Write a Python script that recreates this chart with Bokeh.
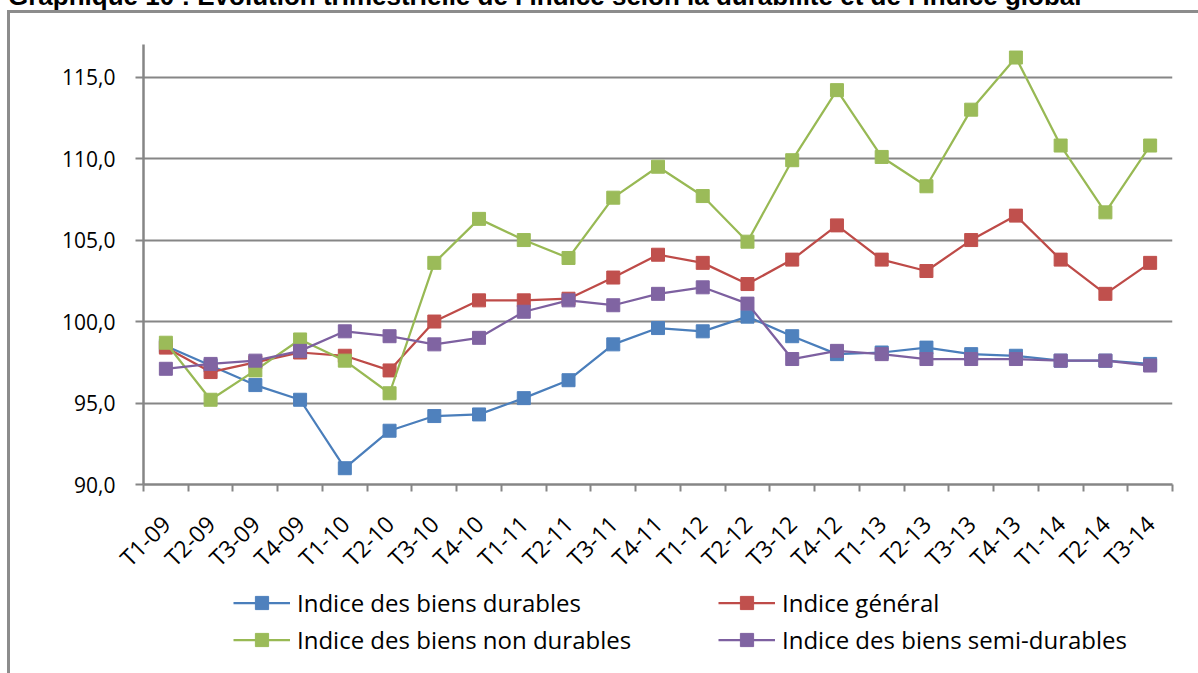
import math
from bokeh.plotting import figure
from bokeh.layouts import column
from bokeh.models import Range1d, FixedTicker, Legend, LegendItem, Div
from bokeh.embed import file_html
from bokeh.resources import INLINE

quarters = ["T1-09", "T2-09", "T3-09", "T4-09", "T1-10", "T2-10", "T3-10", "T4-10",
            "T1-11", "T2-11", "T3-11", "T4-11", "T1-12", "T2-12", "T3-12", "T4-12",
            "T1-13", "T2-13", "T3-13", "T4-13", "T1-14", "T2-14", "T3-14"]
durables = [98.5, 97.3, 96.1, 95.2, 91.0, 93.3, 94.2, 94.3, 95.3, 96.4, 98.6, 99.6,
            99.4, 100.3, 99.1, 98.0, 98.1, 98.4, 98.0, 97.9, 97.6, 97.6, 97.4]
general = [98.4, 96.9, 97.5, 98.1, 97.9, 97.0, 100.0, 101.3, 101.3, 101.4, 102.7, 104.1,
           103.6, 102.3, 103.8, 105.9, 103.8, 103.1, 105.0, 106.5, 103.8, 101.7, 103.6]
non_durables = [98.7, 95.2, 97.0, 98.9, 97.6, 95.6, 103.6, 106.3, 105.0, 103.9, 107.6, 109.5,
                107.7, 104.9, 109.9, 114.2, 110.1, 108.3, 113.0, 116.2, 110.8, 106.7, 110.8]
semi_durables = [97.1, 97.4, 97.6, 98.2, 99.4, 99.1, 98.6, 99.0, 100.6, 101.3, 101.0, 101.7,
                 102.1, 101.1, 97.7, 98.2, 98.0, 97.7, 97.7, 97.7, 97.6, 97.6, 97.3]
series_names = ["Indice des biens durables", "Indice général",
                "Indice des biens non durables", "Indice des biens semi-durables"]
y_ticks = [90, 95, 100, 105, 110, 115]
y_tick_labels = ["90,0", "95,0", "100,0", "105,0", "110,0", "115,0"]
title_text = "Graphique 10 : Evolution trimestrielle de l\u2019indice selon la durabilit\u00e9 et de l\u2019indice global"

line_colors = ["#4A7EBB", "#BE4B48", "#98B954", "#7D60A0"]
fill_colors = ["#4F81BD", "#C0504D", "#9BBB59", "#8064A2"]
GRAY = "#868686"
EDGE = "#8C8C8C"
FONT = "Open Sans"
W = 1198

xs = list(range(len(quarters)))
all_series = [durables, general, non_durables, semi_durables]

# ---- title strip (mostly above the visible page, as in the reference) ----
t = Div(text=("<div style=\"font-family:'Liberation Sans';font-weight:bold;font-size:26px;"
              "line-height:24px;padding-left:8px;white-space:nowrap;color:black;\">"
              + title_text + "</div>"),
        width=W, height=26, margin=(0, 0, 0, 0), styles={"overflow": "hidden"})

# ---- main chart ----
p = figure(width=W, height=577, output_backend="svg", toolbar_location=None,
           title=None,
           x_range=Range1d(-0.5, len(quarters) - 0.5), y_range=Range1d(90, 117),
           min_border_left=143, min_border_right=26, min_border_top=34, min_border_bottom=102)
p.styles = {"background": (f"linear-gradient({EDGE},{EDGE}) 7px 0px / 100% 3px no-repeat, "
                           f"linear-gradient({EDGE},{EDGE}) 7px 0px / 3px 100% no-repeat, white")}
p.outline_line_color = None
p.background_fill_color = "white"
p.border_fill_color = None

xa = p.xaxis[0]
xa.ticker = FixedTicker(ticks=xs, minor_ticks=[x - 0.5 for x in range(len(quarters) + 1)])
xa.major_label_overrides = {i: q for i, q in enumerate(quarters)}
xa.major_label_orientation = math.pi / 4
xa.major_tick_line_color = None
xa.major_tick_out = 0
xa.minor_tick_in = 0
xa.minor_tick_out = 7
xa.minor_tick_line_color = GRAY
xa.minor_tick_line_width = 2
xa.axis_line_color = GRAY
xa.axis_line_width = 2.5
xa.major_label_text_font = FONT
xa.major_label_text_font_size = "23px"
xa.major_label_text_color = "black"
xa.major_label_standoff = 28

ya = p.yaxis[0]
ya.ticker = FixedTicker(ticks=y_ticks, minor_ticks=[])
ya.major_label_overrides = {t_: l for t_, l in zip(y_ticks, y_tick_labels)}
ya.major_tick_in = 0
ya.major_tick_out = 8
ya.major_tick_line_color = GRAY
ya.major_tick_line_width = 2
ya.minor_tick_line_color = None
ya.axis_line_color = GRAY
ya.axis_line_width = 2.5
ya.major_label_text_font = FONT
ya.major_label_text_font_size = "21px"
ya.major_label_text_color = "black"
ya.major_label_standoff = 20

p.xgrid.grid_line_color = None
p.ygrid.ticker = FixedTicker(ticks=y_ticks)
p.ygrid.grid_line_color = GRAY
p.ygrid.grid_line_width = 2

for vals, lc, fc in zip(all_series, line_colors, fill_colors):
    p.line(xs, vals, line_color=lc, line_width=2.25)
    p.scatter(xs, vals, marker="square", size=13, fill_color=fc, line_color=fc)

# ---- legend strip (its frame is aligned with the chart frame) ----
q = figure(width=W, height=86, output_backend="svg", toolbar_location=None,
           x_range=Range1d(-0.5, len(quarters) - 0.5), y_range=Range1d(0, 1),
           x_axis_location=None, y_axis_location=None,
           min_border=0, min_border_left=0, min_border_right=0,
           min_border_top=0, min_border_bottom=0)
q.styles = {"background": f"linear-gradient({EDGE},{EDGE}) 7px 0px / 3px 100% no-repeat, white"}
q.outline_line_color = None
q.grid.grid_line_color = None
q.background_fill_color = None
q.border_fill_color = None

items = []
for name, vals, lc, fc in zip(series_names, all_series, line_colors, fill_colors):
    # same series, outside this strip's y range: only the legend swatch shows
    lr = q.line(xs, vals, line_color=lc, line_width=2.25)
    sr = q.scatter(xs, vals, marker="square", size=13, fill_color=fc, line_color=fc)
    items.append(LegendItem(label=name, renderers=[lr, sr]))

legend = Legend(items=items, location=(90, 17), orientation="horizontal", ncols=2,
                padding=0, margin=0, spacing=4,
                glyph_width=57, glyph_height=33, label_height=33, label_width=417,
                label_standoff=7, border_line_color=None, background_fill_alpha=0,
                label_text_font=FONT, label_text_font_size="24px", label_text_color="black")
q.add_layout(legend, "center")

root = column(t, p, q, spacing=0)
root.styles = {"margin-top": "-16px"}

open("out.html", "w").write(file_html(root, INLINE))
